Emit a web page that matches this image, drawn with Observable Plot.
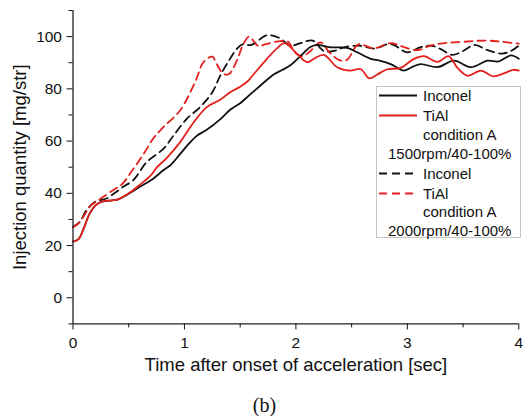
<!DOCTYPE html>
<html><head><meta charset="utf-8">
<script src="https://cdn.jsdelivr.net/npm/d3@7"></script>
<script src="https://cdn.jsdelivr.net/npm/@observablehq/plot@0.6"></script>
<style>
body{margin:0;background:#fff;}
#wrap{position:relative;width:529px;height:416px;font-family:"Liberation Sans",Arial,sans-serif;}
#legend{position:absolute;left:376px;top:86px;width:145px;height:152px;border:1px solid #c4c4c4;background:#fff;box-sizing:border-box;}
.row{position:absolute;left:0;height:19px;line-height:19px;font-size:15px;color:#111;white-space:nowrap;}
.row svg{position:absolute;left:1px;top:0;}
.row span{position:absolute;top:0;}
#caption{position:absolute;left:0;width:529px;top:393px;text-align:center;font-family:"Liberation Serif","Times New Roman",serif;font-size:20px;line-height:24px;color:#111;}
</style></head><body><div id="wrap"></div>
<script>
// ---- data ----
const inconel1500T = [0,0.05,0.1,0.15,0.2,0.26,0.35,0.4,0.5,0.6,0.7,0.81,0.88,0.96,1.04,1.11,1.2,1.32,1.41,1.5,1.58,1.68,1.8,1.88,1.95,2.04,2.13,2.19,2.31,2.46,2.55,2.67,2.75,2.85,2.97,3.05,3.12,3.27,3.42,3.57,3.72,3.82,3.93,4.0];
const inconel1500V = [21.5,22.5,27,32.3,35.3,36.8,37.3,37.6,39.8,42.5,45,48.8,51,55,59,62,64.3,68.3,72,74.5,77.5,81.2,85.5,87.3,89,92.5,96,96.8,95.9,95.7,94,91.5,90.8,89.5,87,88.5,89.5,88.3,90.8,88.3,90.8,90.5,92.8,91.5];

const tiAl1500T = [0,0.05,0.1,0.15,0.2,0.26,0.35,0.4,0.5,0.6,0.7,0.754,0.84,0.96,1.08,1.2,1.32,1.41,1.5,1.57,1.62,1.74,1.83,1.9,2.01,2.1,2.16,2.25,2.37,2.49,2.58,2.66,2.73,2.82,2.94,3.06,3.15,3.27,3.37,3.45,3.54,3.66,3.77,3.87,3.95,4.0];
const tiAl1500V = [21.5,22.5,27,32.3,35.3,36.8,37.3,37.6,40,43.3,47,50,53.5,59.5,67,73,75.8,78.7,80.8,83,85.5,91.5,95.5,97.5,93.4,90.2,91.5,93,88.3,87,87.6,84,85.5,87.5,88,91.5,92.5,90.3,92.5,88,85,87,84.8,86,87.3,87];

const inconel2000T = [0,0.06,0.12,0.2,0.3,0.38,0.45,0.54,0.66,0.81,0.9,1.02,1.14,1.25,1.32,1.38,1.47,1.52,1.6,1.74,1.85,1.95,2.04,2.15,2.25,2.35,2.43,2.58,2.7,2.85,3.0,3.12,3.22,3.3,3.4,3.5,3.6,3.72,3.85,3.93,4.0];
const inconel2000V = [27.2,29,33.5,36.8,38,40.3,42.5,45,51.9,57,62,68.5,73,78.7,85,89.5,95.3,97,96.8,100.5,99.5,96.5,97.5,98.5,94.5,94.6,95.9,96.5,95.4,97.2,94,96,96.5,95.2,93,94.5,96.8,94.8,93.5,94.5,96.5];

const tiAl2000T = [0,0.05,0.1,0.16,0.25,0.37,0.44,0.544,0.64,0.72,0.81,0.96,1.1,1.17,1.25,1.29,1.35,1.4,1.47,1.53,1.58,1.66,1.74,1.86,1.93,1.99,2.06,2.13,2.22,2.3,2.39,2.46,2.56,2.7,2.85,2.97,3.09,3.2,3.33,3.5,3.7,3.85,4.0];
const tiAl2000V = [27,28.5,31.5,35.3,38,41.5,43.5,49.5,55.5,61,65.3,71.7,83,90.2,92.3,89.5,85.7,85.7,90.8,97.3,100,96.5,97.2,98.3,98,94,92.5,94.5,97.8,94,91,91.2,97,95.5,97.5,96,94.8,96.5,97.5,98,98.5,98,97.3];

const seriesNames = ["Inconel 1500rpm","TiAl 1500rpm","Inconel 2000rpm","TiAl 2000rpm"];
const seriesColors = ["#111111","#e3201b","#111111","#e3201b"];
const seriesDash = [null,null,"8,5","8,5"];
const yMajor = [0,20,40,60,80,100];
const yMinor = [-10,10,30,50,70,90,110];
const xMajor = [0,1,2,3,4];
const xMinor = [0.5,1.5,2.5,3.5];
const xLabel = "Time after onset of acceleration [sec]";
const yLabel = "Injection quantity [mg/str]";
const legendRows = [
  {s:0,text:"Inconel"},{s:1,text:"TiAl"},{s:-1,text:"condition A"},{s:-1,text:"1500rpm/40-100%",wide:true},
  {s:2,text:"Inconel"},{s:3,text:"TiAl"},{s:-1,text:"condition A"},{s:-1,text:"2000rpm/40-100%",wide:true}
];
const caption = "(b)";

// ---- build ----
const allT = [inconel1500T,tiAl1500T,inconel2000T,tiAl2000T];
const allV = [inconel1500V,tiAl1500V,inconel2000V,tiAl2000V];
const drawOrder = [2,3,0,1];
const lineMarks = drawOrder.map(i => Plot.line(allT[i].map((t,k)=>({t, v: allV[i][k]})), {
  x:"t", y:"v", stroke: seriesColors[i], strokeWidth: 1.8,
  strokeDasharray: seriesDash[i] || undefined, curve: "catmull-rom"
}));

const chart = Plot.plot({
  width: 529, height: 388,
  marginLeft: 72.5, marginRight: 10.7, marginTop: 10, marginBottom: 64.6,
  x: {domain:[0,4]}, y: {domain:[-10,110]},
  style: {fontFamily:'"Liberation Sans",Arial,sans-serif', fontSize:"15px", color:"#111", background:"#fff"},
  marks: [
    ...lineMarks,
    Plot.ruleX([0], {stroke:"#222", strokeWidth:1.3}),
    Plot.ruleY([-10], {stroke:"#222", strokeWidth:1.3}),
    Plot.axisY({ticks: yMajor, tickSize: 6, tickPadding: 5, label: null, fontSize: 15.5}),
    Plot.axisY({ticks: yMinor, tickSize: 4, tickFormat: () => "", label: null}),
    Plot.axisX({ticks: xMajor, tickSize: 6, tickPadding: 7, label: null, fontSize: 15.5, tickFormat: d => String(d)}),
    Plot.axisX({ticks: xMinor, tickSize: 4, tickFormat: () => "", label: null}),
    Plot.text([xLabel], {frameAnchor:"bottom", text: d => d, dy: 41, fontSize: 18.5, lineAnchor:"middle", textAnchor:"middle", fill:"#111"}),
    Plot.text([yLabel], {frameAnchor:"left", text: d => d, dx: -53, rotate: -90, fontSize: 18.5, lineAnchor:"middle", textAnchor:"middle", fill:"#111"})
  ]
});

const wrap = document.getElementById("wrap");
wrap.appendChild(chart);

const legend = document.createElement("div");
legend.id = "legend";
const centers = [95,115,134,153,173,193,211,230];
legendRows.forEach((r, i) => {
  const row = document.createElement("div");
  row.className = "row";
  row.style.top = (centers[i] - 87 - 9.5) + "px";
  row.style.width = "143px";
  if (r.s >= 0) {
    const dash = seriesDash[r.s] ? `stroke-dasharray="${seriesDash[r.s]}"` : "";
    row.innerHTML += `<svg width="40" height="19"><line x1="1" x2="39" y1="9.5" y2="9.5" stroke="${seriesColors[r.s]}" stroke-width="1.8" ${dash}/></svg>`;
  }
  const sp = document.createElement("span");
  sp.textContent = r.text;
  sp.style.left = (r.wide ? 11 : 46) + "px";
  row.appendChild(sp);
  legend.appendChild(row);
});
wrap.appendChild(legend);

const cap = document.createElement("div");
cap.id = "caption";
cap.textContent = caption;
wrap.appendChild(cap);
</script></body></html>
